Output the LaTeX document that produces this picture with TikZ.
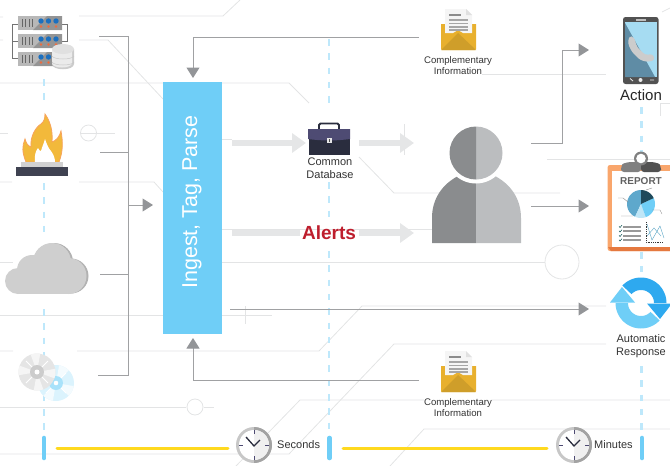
\documentclass[tikz,border=0pt]{standalone}
\usepackage{fontspec}
\setmainfont{Liberation Sans}
\usetikzlibrary{arrows.meta}
\definecolor{bgl}{HTML}{E3E4E5}
\definecolor{flowc}{HTML}{A0A1A3}
\definecolor{headc}{HTML}{939598}
\definecolor{bluem}{HTML}{6FCEF7}
\definecolor{bluepale}{HTML}{BEE8FB}
\definecolor{blued}{HTML}{2EA9EF}
\definecolor{arrowg}{HTML}{E5E6E7}
\definecolor{pers}{HTML}{8A8C8E}
\definecolor{persl}{HTML}{BBBDBF}
\definecolor{yel}{HTML}{FFD91F}
\definecolor{env}{HTML}{E8B02E}
\definecolor{envd}{HTML}{CF9E2A}
\definecolor{txt}{HTML}{333333}
\definecolor{flamey}{HTML}{F2B93B}
\definecolor{flameo}{HTML}{F7A35C}
\definecolor{brd}{HTML}{2A2D3E}
\definecolor{brl}{HTML}{4E4B73}
\definecolor{orng}{HTML}{F9A66C}
\definecolor{orngd}{HTML}{E5793F}
\definecolor{scrl}{HTML}{A6DCF2}
\definecolor{scrd}{HTML}{5F8CA5}
\definecolor{piedark}{HTML}{1F4A5C}
\definecolor{piemid}{HTML}{5EA8CC}
\definecolor{piepale}{HTML}{BFE6F7}
\definecolor{dotblue}{HTML}{1B6FBF}
\definecolor{dotor}{HTML}{EE6C3F}
\tikzset{
  bgline/.style={draw=bgl,line width=0.8pt},
  flow/.style={draw=flowc,line width=1pt},
  flowarrow/.style={flow,-{Triangle[length=10.5pt,width=13pt,color=headc]}},
  bigarrow/.style={draw=arrowg,line width=6.5pt,-{Triangle[length=14pt,width=19pt,color=arrowg]}},
  dashv/.style={draw=bluepale,line width=2.2pt,dash pattern=on 6.5pt off 7.8pt},
  tick/.style={draw=bluem,line width=4.6pt,line cap=round},
  timeline/.style={draw=yel,line width=3pt,line cap=round},
  caption/.style={align=center,text=txt,inner sep=0pt,font=\fontsize{11}{13.2}\selectfont},
  smallcap/.style={align=center,text=txt,inner sep=0pt,font=\fontsize{9.6}{11.6}\selectfont},
  ingestbox/.style={fill=bluem,inner sep=0pt,minimum width=59pt,minimum height=252pt}
}
\newcommand{\envelopeicon}[1]{%
  \begin{scope}[shift={(0,#1)}]
    \fill[env] (441,24) -- (476,24) -- (476,49) -- (475,50) -- (442,50) -- (441,49) -- cycle;
    \fill[envd] (441,50) -- (458,33) -- (476,50) -- cycle;
    \fill[white!92!gray] (445,9) -- (466,9) -- (472,15) -- (472,33) -- (463,33) -- (458,30) -- (453,33) -- (445,33) -- cycle;
    \fill[black!12] (466,9) -- (472,15) -- (466,15) -- cycle;
    \fill[black!45] (449,14) rectangle (461,16);
    \foreach \yy in {19,22.5,26,29} \fill[black!35] (449,\yy) rectangle (468,\yy+1.6);
  \end{scope}}
\newcommand{\clockicon}[2]{%
  \begin{scope}[shift={(#1,#2)}]
    \fill[black!22] (0,0) circle (18pt);
    \begin{scope}
      \clip (0,-19) rectangle (19,19);
      \fill[black!36] (0,0) circle (18pt);
    \end{scope}
    \fill[white] (0,0) circle (15pt);
    \begin{scope}
      \clip (0,-16) rectangle (16,16);
      \fill[black!6] (0,0) circle (15pt);
    \end{scope}
    \foreach \a/\b/\c/\d in {0/-15/0/-11,0/15/0/11,-15/0/-11/0,15/0/11/0}
      \draw[brl,line width=0.9pt] (\a,\b) -- (\c,\d);
    \draw[brd,line width=1.3pt] (-8,-8) -- (0,1) -- (6,-5);
  \end{scope}}
\begin{document}
\begin{tikzpicture}[x=1pt,y=-1pt]
\useasboundingbox (0,0) rectangle (670,466);
\clip (0,0) rectangle (670,466);
% ---------- background circuit lines
\draw[bgline] (0,17)--(3,17) (79,16)--(223,16)--(240,0);
\draw[bgline] (0,40)--(3,40) (79,40)--(108,40)--(163,99);
\draw[bgline] (0,83)--(163,83) (222,83)--(289,83)--(309,103);
\draw[bgline] (0,133)--(8,133) (80,133)--(115,133);
\draw[bgline] (88.5,133) circle (8pt);
\draw[bgline] (0,182)--(12,182) (79,182)--(154,182)--(163,192);
\draw[bgline] (222,139)--(232,139);
\draw[bgline] (222,229)--(432,229);
\draw[bgline] (0,262)--(13,262) (222,262)--(545,262);
\draw[bgline] (562,262) circle (17pt);
\draw[bgline] (0,315)--(163,315) (222,315)--(272,315) (245,306)--(245,324);
\draw[bgline] (0,351)--(13,351) (77,351)--(319,351)--(362,306)--(606,306);
\draw[bgline] (0,454)--(289,454)--(394,344)--(606,344);
\draw[bgline] (236,466)--(300,400)--(424,400) (492,400)--(670,400);
\draw[bgline] (390,466)--(424,429)--(670,429);
\draw[bgline] (0,407)--(186,407) (204,407)--(214,407);
\draw[bgline] (195,407) circle (8pt);
\draw[bgline] (482,74)--(606,74);
\draw[bgline] (660,116)--(660,103)--(670,103);
\draw[bgline] (662,12)--(670,8);
\draw[bgline] (547,159)--(670,159);
\draw[bgline] (359,157)--(394,193)--(560,193);
\draw[bgline] (404,124)--(404,155);
\draw[bgline] (449,150)--(449,156);
% ---------- dashed verticals
\foreach \xx/\ya/\yb in {44/79/103,44/183/232,44/309/430,329/39/105,329/182/218,329/251/430,641.5/107/155,641.5/252/272,641.5/366/430}
  \draw[dashv] (\xx,\ya) -- (\xx,\yb);
% ---------- ingest
\node[ingestbox] (ingest) at (192.5,208) {};
\node[rotate=90,text=white,inner sep=0pt,font=\fontsize{21.5}{21.5}\selectfont] (ingesttext) at (192,202) {Ingest, Tag, Parse};
% ---------- servers
\draw[black!55,line width=1pt] (18,24)--(12.5,24)--(12.5,58)--(18,58) (12.5,41)--(18,41) (62,24)--(67.5,24)--(67.5,41)--(62,41);
\foreach \yy in {16,34,52}{
  \fill[black!28] (18,\yy) rectangle (62,\yy+14);
  \fill[black!42] (33,\yy+14) -- (47,\yy) -- (62,\yy) -- (62,\yy+14) -- cycle;
  \foreach \vx in {22,25.5,29,32.5} \draw[black!60,line width=1pt] (\vx,\yy+3) -- (\vx,\yy+11);
  \foreach \dx in {41,48.5,56}{
    \fill[dotblue] (\dx,\yy+5) circle (2.7pt);
    \fill[dotor] (\dx,\yy+10.5) circle (1.3pt);}
}
\fill[black!20] (52,49) -- (52,64) .. controls (52,71) and (74,71) .. (74,64) -- (74,49) -- cycle;
\fill[black!8] (52,49) -- (52,63) .. controls (52,69) and (72,69) .. (72,63) -- (72,49) -- cycle;
\fill[black!12] (63,49) ellipse (11pt and 5pt);
\draw[black!22,line width=0.5pt] (52,56) .. controls (54,60) and (72,60) .. (74,56) (52,62) .. controls (54,66) and (72,66) .. (74,62);
% ---------- flame
\fill[flamey,draw=flameo,line width=0.8pt] (26,162) .. controls (22,152) and (22,146) .. (25,139)
  .. controls (26,143) and (28,146) .. (31,147) .. controls (30,136) and (36,127) .. (41,124)
  .. controls (44,122) and (45,118) .. (45,114) .. controls (50,121) and (53,130) .. (52,142)
  .. controls (56,141) and (60,136) .. (61,131) .. controls (63,142) and (63,152) .. (59,162) -- cycle;
\fill[white] (35,162) .. controls (34,156) and (36,150) .. (38,148) .. controls (39,150) and (40,151) .. (41,151)
  .. controls (42,147) and (44,143) .. (45,139) .. controls (47,145) and (49,149) .. (51,151) .. controls (54,155) and (55,159) .. (55,162) -- cycle;
\fill[black!18] (21,162) rectangle (63,167);
\fill[brd!90!white] (16,167) rectangle (68,176);
% ---------- cloud
\fill[black!30] (71,276) circle (17.5pt) (54,262) circle (19pt);
\fill[black!19] (18,281) circle (13pt) (32,270) circle (15pt) (52,262) circle (19pt) (68.5,276) circle (18pt);
\fill[black!19] (18,270) rectangle (68.5,294);
% ---------- disks
\fill[bluem!25!white] (56,383) circle (18pt);
\foreach \a in {10,100,190,280}
  \fill[white!70!bluem!25!white] (56,383) -- plot[domain=\a:\a+35,samples=6] ({56+18*cos(\x)},{383+18*sin(\x)}) -- cycle;
\draw[white,line width=1pt] (46,373)--(66,393) (66,373)--(46,393);
\fill[bluem!60!white] (56,383) circle (7pt);
\fill[white] (56,383) circle (2.3pt);
\fill[black!10] (37,372) circle (18.5pt);
\foreach \a in {70,170,250,350}
  \fill[black!4] (37,372) -- plot[domain=\a:\a+30,samples=6] ({37+18.5*cos(\x)},{372+18.5*sin(\x)}) -- cycle;
\draw[white,line width=1pt] (26,361)--(48,383) (48,361)--(26,383);
\fill[black!20] (37,372) circle (7pt);
\fill[white] (37,372) circle (2.5pt);
% ---------- named connector ends
\coordinate (srvout) at (99,36);
\coordinate (fireout) at (100,152);
\coordinate (cloudout) at (100,274);
\coordinate (diskout) at (98,375);
\coordinate (bustop) at (128,36);
\coordinate (busbot) at (128,375);
\coordinate (busmid) at (128,205);
\coordinate (ingestleft) at (153,205);
\coordinate (env1out) at (419,37);
\coordinate (ingesttop) at (193,78);
\coordinate (env2out) at (419,380);
\coordinate (ingestbot) at (193,338);
\coordinate (persout1) at (531,143);
\coordinate (persbend) at (562,143);
\coordinate (persout2) at (531,206);
\coordinate (phonein) at (589,50);
\coordinate (reportin) at (589,206);
\coordinate (ingestout) at (230,309);
\coordinate (respin) at (589,309);
\coordinate (a1) at (232,143);
\coordinate (a1e) at (306,143);
\coordinate (a2) at (359,143);
\coordinate (a2e) at (414,143);
\coordinate (a3) at (232,233);
\coordinate (a3m) at (300,233);
\coordinate (a4) at (359,233);
\coordinate (a4e) at (414,233);
% ---------- connectors
\draw[flow] (srvout) -- (bustop) -- (busbot) -- (diskout);
\draw[flow] (fireout) -- (fireout -| bustop);
\draw[flow] (cloudout) -- (cloudout -| bustop);
\draw[flowarrow] (busmid) -- (ingestleft);
\draw[flowarrow] (env1out) -| (ingesttop);
\draw[flowarrow] (env2out) -| (ingestbot);
\draw[flowarrow] (persout1) -- (persbend) |- (phonein);
\draw[flowarrow] (persout2) -- (reportin);
\draw[flowarrow] (ingestout) -- (respin);
\draw[bigarrow] (a1) -- (a1e);
\draw[bigarrow] (a2) -- (a2e);
\draw[draw=arrowg,line width=6.5pt] (a3) -- (a3m);
\draw[bigarrow] (a4) -- (a4e);
% ---------- briefcase
\draw[brd,line width=1.8pt,rounded corners=1.5pt] (319,130) -- (319,123.5) -- (339,123.5) -- (339,130);
\fill[brd] (309,131) rectangle (350,155);
\fill[brl] (308,129) -- (350,129) -- (350,139) .. controls (335,141) and (323,141) .. (308,139) -- cycle;
\fill[white!80!gray] (327,137.5) rectangle (332,143);
\fill[black!70] (329,139) rectangle (330.2,141.5);
\node[caption] (commondb) at (330,168.5) {Common\\Database};
% ---------- alerts
\node[inner sep=0pt,text={rgb,255:red,190;green,30;blue,45},font=\bfseries\fontsize{19}{19}\selectfont] (alerts) at (329,233) {Alerts};
% ---------- envelopes
\envelopeicon{0}
\node[smallcap] (ci1) at (458,65.5) {Complementary\\Information};
\envelopeicon{342}
\node[smallcap] (ci2) at (458,407.5) {Complementary\\Information};
% ---------- person
\fill[pers] (432,243) -- (432,218) .. controls (432,198) and (443,184) .. (458,176) -- (476,176) -- (476,243) -- cycle;
\fill[persl] (521,243) -- (521,218) .. controls (521,198) and (510,184) .. (495,176) -- (476,176) -- (476,243) -- cycle;
\fill[white] (476,153) circle (30.5pt);
\begin{scope}
  \clip (476,120) rectangle (510,185);
  \fill[persl] (476,153) circle (26.5pt);
\end{scope}
\begin{scope}
  \clip (440,120) rectangle (476,185);
  \fill[pers] (476,153) circle (26.5pt);
\end{scope}
% ---------- phone
\fill[black!68,rounded corners=2.5pt] (623,17) rectangle (658.5,84);
\fill[scrl] (625,22) rectangle (656.5,77);
\fill[scrd] (625,23) -- (655,77) -- (625,77) -- cycle;
\fill[black!20,rounded corners=3pt] (629,36) -- (634,37) -- (637,47) -- (645,55) -- (653,54) -- (655,60) -- (648,62) -- (640,60) -- (632,52) -- (628,44) -- cycle;
\fill[black!25] (636,19) rectangle (646,20.5);
\fill[white!85!gray] (640.5,80) circle (2pt);
\draw[white!85!gray,line width=0.8pt] (630,78.5) -- (633,81) (650,80) -- (654,80);
\node[inner sep=0pt,text=black!85,font=\fontsize{15}{15}\selectfont] (action) at (641,95.5) {Action};
% ---------- report
\fill[orng,rounded corners=2.5pt] (607.5,165) rectangle (680,251);
\fill[orngd] (608,247) -- (680,247) -- (680,251) -- (611,251) -- cycle;
\fill[white] (612,171) rectangle (680,246.5);
\fill[black!50,rounded corners=3pt] (621,172) -- (621,167) .. controls (623,163) and (630,162) .. (634,162) -- (641,162) -- (641,172) -- cycle;
\fill[black!68,rounded corners=3pt] (661,172) -- (661,167) .. controls (659,163) and (652,162) .. (648,162) -- (641,162) -- (641,172) -- cycle;
\fill[black!50] (641,158.5) circle (7pt);
\fill[white] (641,158.5) circle (4.8pt);
\node[inner sep=0pt,text=black!62,font=\bfseries\fontsize{10}{10}\selectfont] (reportlbl) at (641,181) {REPORT};
\fill[piemid] (641,204) -- plot[domain=90:245,samples=20] ({641+14*cos(\x)},{204-14*sin(\x)}) -- cycle;
\fill[piepale] (641,204) -- plot[domain=245:290,samples=8] ({641+14*cos(\x)},{204-14*sin(\x)}) -- cycle;
\fill[bluem] (641,204) -- plot[domain=290:385,samples=16] ({641+14*cos(\x)},{204-14*sin(\x)}) -- cycle;
\fill[piedark] (641,204) -- plot[domain=25:90,samples=10] ({641+14*cos(\x)},{204-14*sin(\x)}) -- cycle;
\draw[black!45,line width=0.4pt] (618,198) -- (623,198) -- (628,202) (621,216) -- (633,216) (652,210) -- (660,210) -- (662,214) (646,190) -- (652,188);
\foreach \yy in {225.5,230,234.5,239} {
  \fill[black!40] (623,\yy) rectangle (641,\yy+2);
  \draw[teal!60!black,line width=0.5pt] (619,\yy+0.8) -- (620,\yy+2) -- (622,\yy-0.3);
}
\draw[black!80,line width=0.6pt,dash pattern=on 0.8pt off 1pt] (646,222) -- (646,242) -- (663,242);
\draw[bluem!80!black,line width=0.4pt] (647,224) -- (652,240) -- (660,226) -- (664,238) (647,236) -- (654,228) -- (661,236);
% ---------- refresh
\fill[bluem] plot[domain=180:317,samples=30] ({641+25.5*cos(\x)},{303-25.5*sin(\x)}) -- plot[domain=317:180,samples=30] ({641+13*cos(\x)},{303-13*sin(\x)}) -- cycle;
\fill[bluem] (622,287) -- (635,302.5) -- (610,302.5) -- cycle;
\fill[blued] plot[domain=0:137,samples=30] ({641+25.5*cos(\x)},{303-25.5*sin(\x)}) -- plot[domain=137:0,samples=30] ({641+13*cos(\x)},{303-13*sin(\x)}) -- cycle;
\fill[blued] (660,319) -- (647,303.5) -- (672,303.5) -- cycle;
\node[caption] (autoresp) at (641,346.5) {Automatic\\Response};
% ---------- timeline
\foreach \xx in {44,329.5,642} \draw[tick] (\xx,438) -- (\xx,458);
\coordinate (t0) at (57,448);
\coordinate (t0e) at (228,448);
\coordinate (t1) at (343,448);
\coordinate (t1e) at (547,448);
\draw[timeline] (t0) -- (t0e);
\draw[timeline] (t1) -- (t1e);
\clockicon{254}{445}
\clockicon{574}{445}
\node[anchor=west,inner sep=0pt,text=txt,font=\fontsize{11}{11}\selectfont] (sec) at (277,444.5) {Seconds};
\node[anchor=west,inner sep=0pt,text=txt,font=\fontsize{11}{11}\selectfont] (min) at (594,444.5) {Minutes};
\end{tikzpicture}
\end{document}
